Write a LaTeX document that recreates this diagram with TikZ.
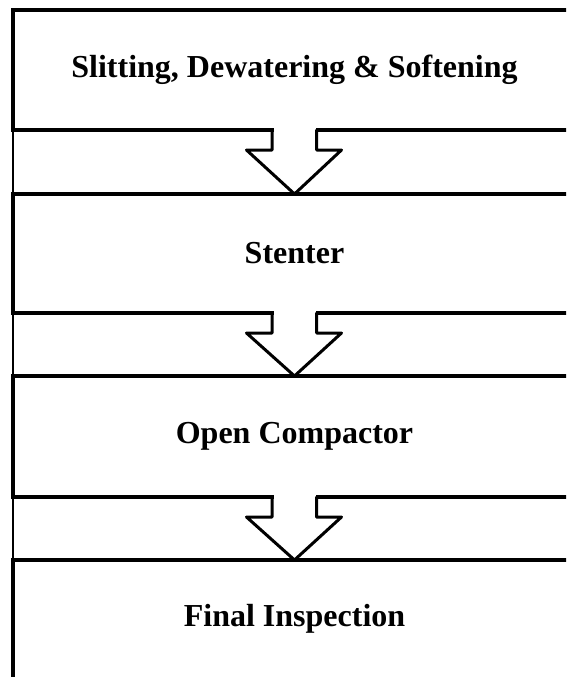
\documentclass[tikz,border=0pt]{standalone}
\usepackage{fontspec}
\setmainfont{Liberation Serif}
\usetikzlibrary{calc}
\begin{document}
\begin{tikzpicture}[x=1pt,y=-1pt,
  stage/.style={draw=black,line width=4pt,rectangle,minimum width=563pt,font=\fontsize{32}{36}\selectfont\bfseries,inner sep=0pt,outer sep=0pt},
  blockarrow/.style={draw=black,line width=3pt,line join=round,line cap=round}]
\useasboundingbox (0,0) rectangle (566,677);
\clip (0,0) rectangle (566,677);
\draw[line width=1.2pt] (13,10) -- (13,677);
\node[stage,minimum height=120pt] (b1) at (294.5,70) {Slitting, Dewatering \& Softening};
\node[stage,minimum height=119pt] (b2) at (294.5,253.5) {Stenter};
\node[stage,minimum height=121pt] (b3) at (294.5,436.5) {Open Compactor};
\node[stage,minimum height=140pt] (b4) at (294.5,630) {};
\node[font=\fontsize{32}{36}\selectfont\bfseries] (t4) at (294.5,619) {Final Inspection};
\foreach \a/\b in {b1/b2,b2/b3,b3/b4}{
  \fill[white] ($(\a.south)+(-21,-3)$) rectangle ($(\a.south)+(21,3)$);
  \draw[blockarrow] ($(\a.south)+(-22.5,0)$) -- ++(0,20) -- ++(-25.5,0) -- (\b.north) -- ($(\a.south)+(47,20)$) -- ++(-25,0) -- ++(0,-20);
}
\end{tikzpicture}
\end{document}
